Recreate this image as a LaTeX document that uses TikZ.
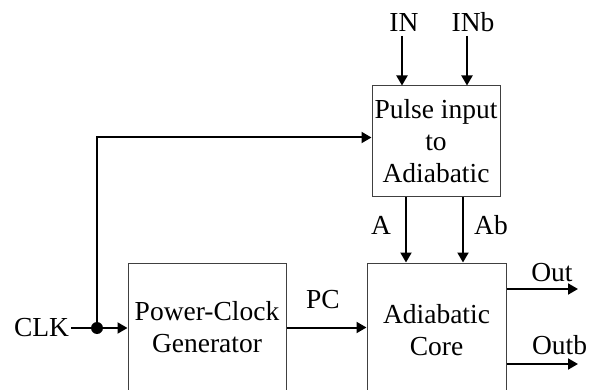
\documentclass[tikz,border=0pt]{standalone}
\usepackage{fontspec}
\setmainfont{Liberation Serif}
\usetikzlibrary{positioning,arrows.meta,calc}

\begin{document}
\begin{tikzpicture}[
  x=1pt,y=-1pt,
  blk/.style={rectangle,draw=black!75,line width=1pt,inner sep=0pt,
              align=center,font=\fontsize{27.5}{32}\selectfont},
  sig/.style={inner sep=2pt,font=\fontsize{27.5}{32}\selectfont},
  arr/.style={-{Triangle[length=10pt,width=11pt]},line width=2pt},
  dot/.style={circle,fill,inner sep=0pt,minimum size=12pt},
  >=Triangle
]
\useasboundingbox (0,0) rectangle (597,390);
% blocks
\node[blk,minimum width=128pt,minimum height=111pt] (pulse) at (436,141.5)
  {Pulse input\\to\\Adiabatic};
\node[blk,minimum width=158pt,minimum height=129pt] (pcg) at (207,327.5)
  {Power-Clock\\Generator};
\node[blk,minimum width=139pt,minimum height=134pt] (core) at (436.5,330)
  {Adiabatic\\Core};
% signal names
\node[sig] (in)   at (404,22)    {IN};
\node[sig] (inb)  at (473,22)    {INb};
\node[sig] (a)    at (381,225)   {A};
\node[sig] (ab)   at (491,225)   {Ab};
\node[sig] (pc)   at (323,300)   {PC};
\node[sig] (out)  at (552,273)   {Out};
\node[sig] (outb) at (559.5,345) {Outb};
\node[sig] (clk)  at (41.5,328)  {CLK};
% connectors
\coordinate (inT)   at (402,36);
\coordinate (inbT)  at (467,36);
\coordinate (aX)    at (406,0);
\coordinate (abX)   at (463,0);
\coordinate (outE)  at (578,289);
\coordinate (outbE) at (578,364);
\draw[arr] (inT) -- (inT |- pulse.north);
\draw[arr] (inbT) -- (inbT |- pulse.north);
\draw[arr] (aX |- pulse.south) -- (aX |- core.north);
\draw[arr] (abX |- pulse.south) -- (abX |- core.north);
\draw[arr] (pcg.east) -- (pcg.east -| core.west);
\draw[arr] (outE -| core.east) -- (outE);
\draw[arr] (outbE -| core.east) -- (outbE);
\node[dot] (split) at (97,328) {};
\draw[arr] (clk.east) -- (clk.east -| pcg.west);
\draw[arr] (split.center) |- ([yshift=4pt]pulse.west);
\end{tikzpicture}
\end{document}
